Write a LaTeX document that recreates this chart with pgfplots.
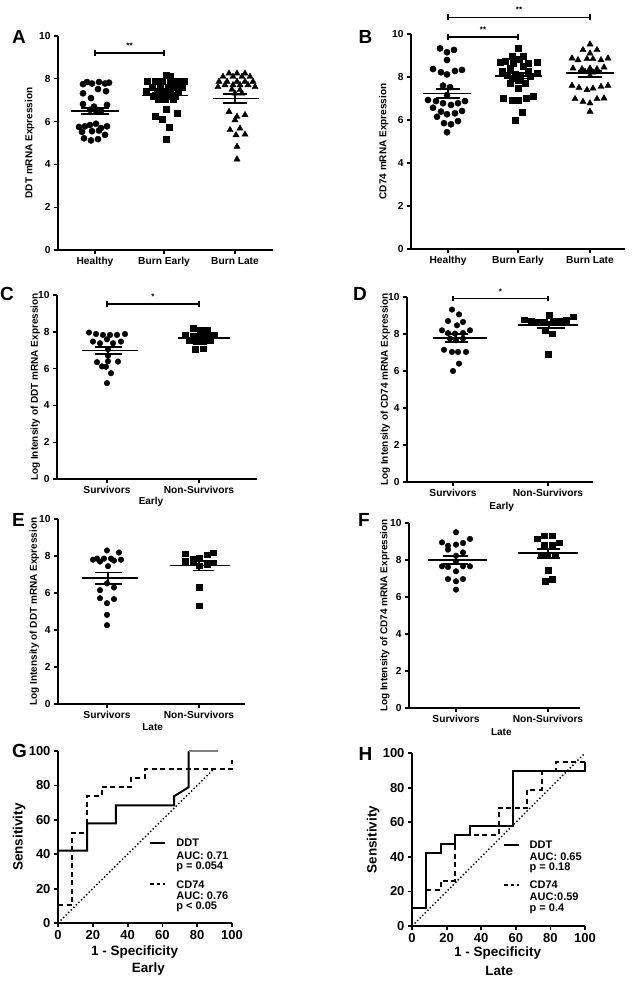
\documentclass[border=0pt]{standalone}
\usepackage{fontspec}
\setmainfont{Liberation Sans}
\usepackage{pgfplots}
\pgfplotsset{compat=1.18}
\newcommand{\ft}[1]{\bfseries\fontsize{#1}{#1}\selectfont}
\pgfplotsset{
  base/.style={scale only axis, axis x line*=bottom, axis y line*=left,
    tick align=outside, major tick length=4pt, clip=false, unbounded coords=jump,
    /pgf/number format/assume math mode=true,
    axis line style={line width=1.4pt}, major tick style={line width=1.4pt,black},
    tick label style={font=\ft{10.2}, black}, label style={font=\ft{10}}},
  scat/.style={base, ymin=0, ymax=10, ytick={0,2,4,6,8,10}},
  dots/.style={only marks, mark=*, mark size=#1, black},
  sqs/.style={only marks, mark=square*, mark size=#1, black},
  tris/.style={only marks, mark=triangle*, mark size=#1, black},
  ms/.style={black, line width=1.8pt, no marks},
  sig/.style={black, line width=1.4pt, no marks},
  roc/.style={base, xmin=0, xmax=100, ymin=0, ymax=100, xtick={0,20,...,100}, ytick={0,20,...,100},
    axis line style={line width=1.8pt}, major tick style={line width=1.8pt,black},
    tick label style={font=\ft{13}}, label style={font=\ft{13.5}}},
  rl/.style={black, line width=2pt, no marks},
}
\begin{document}
\begin{tikzpicture}
\path[use as bounding box] (0pt,0pt) rectangle (638pt,-987pt);
% panel letters
\node[font=\ft{19}] at (19pt,-37pt) {A};
\node[font=\ft{19}] at (365.5pt,-36.5pt) {B};
\node[font=\ft{19}] at (7pt,-294pt) {C};
\node[font=\ft{19}] at (360pt,-294pt) {D};
\node[font=\ft{19}] at (18.5pt,-520pt) {E};
\node[font=\ft{19}] at (364pt,-520pt) {F};
\node[font=\ft{19}] at (19.5pt,-751pt) {G};
\node[font=\ft{19}] at (365.5pt,-753.5pt) {H};

% ---------------- A ----------------
\begin{axis}[scat, at={(58pt,-250pt)}, anchor=south west, width=215pt, height=214pt,
  xmin=-37, xmax=178, xtick={0,69,140}, xticklabels={Healthy,Burn Early,Burn Late},
  ylabel={DDT mRNA Expression}, ylabel style={at={(axis description cs:-0.093,0.5)}, anchor=south}]
\addplot[dots=3.1pt] coordinates {(-12,7.75) (-8,7.85) (-3,7.78) (4,7.85) (10,7.78) (14,7.82)
 (-12,7.32) (3,7.52) (11,7.42) (-4,7.10)
 (-12,6.82) (-5,6.55) (1,6.52) (6,6.48) (12,6.78) (-1,6.70)
 (-16,5.75) (-10,5.78) (-5,5.84) (1,5.90) (6,5.70) (12,5.78) (-13,5.52) (-3,5.55) (4,5.58) (10,5.38) (-11,5.22) (-4,5.12) (3,5.18)};
\addplot[sqs=3pt] coordinates {(71,8.18) (75,8.13)
 (52,7.87) (60,7.87) (67,7.87) (75,7.87) (82,7.87) (89,7.90)
 (57,7.63) (65,7.63) (73,7.63) (80,7.63) (87,7.63)
 (51,7.40) (62,7.40) (68,7.40) (75,7.40) (83,7.40)
 (58,7.20) (65,7.20) (72,7.20) (80,7.20)
 (63,7.04) (70,7.04) (78,7.04)
 (71,6.59) (60,6.26) (67,6.11) (82,6.39) (74,5.76) (71,5.17)};
\addplot[tris=3.6pt] coordinates {(134,8.25) (142,8.25) (150,8.25)
 (128,8.10) (138,8.10) (147,8.10) (155,8.10)
 (124,7.87) (132,7.87) (142,7.87) (150,7.87) (158,7.87)
 (130,7.71) (138,7.71) (145,7.71) (153,7.71)
 (123,7.62) (137,7.50) (145,7.48) (160,7.62)
 (140,7.32) (147,7.32)
 (134,6.46) (142,6.23) (150,6.31) (140,6.07) (135,5.61) (145,5.68) (141,5.37) (150,5.40) (142,4.83) (142,4.24)};
\addplot[ms] coordinates {(-24,6.51) (24,6.51) (0,nan) (-14,6.65) (14,6.65) (0,nan) (-14,6.37) (14,6.37) (0,nan) (0,6.37) (0,6.65)};
\addplot[ms] coordinates {(47,7.22) (93,7.22) (0,nan) (57,7.33) (81,7.33) (0,nan) (57,7.10) (81,7.10) (0,nan) (69,7.10) (69,7.33)};
\addplot[ms] coordinates {(118,7.08) (164,7.08) (0,nan) (128,7.28) (152,7.28) (0,nan) (128,6.88) (152,6.88) (0,nan) (140,6.88) (140,7.28)};
\addplot[sig] coordinates {(0,9.05) (0,9.35) (0,nan) (0,9.2) (69,9.2) (0,nan) (69,9.05) (69,9.35)};
\node[font=\ft{8}, anchor=south] at (axis cs:34.5,9.25) {**};
\end{axis}

% ---------------- B ----------------
\begin{axis}[scat, at={(411pt,-249pt)}, anchor=south west, width=214pt, height=215pt,
  xmin=-37, xmax=177, xtick={0,70,142}, xticklabels={Healthy,Burn Early,Burn Late},
  ylabel={CD74 mRNA Expression}, ylabel style={at={(axis description cs:-0.089,0.5)}, anchor=south}]
\addplot[dots=3.1pt] coordinates {(-8,9.33) (-1,9.15) (6,9.26) (-1,8.79)
 (-15,8.37) (-7,8.22) (-1,8.12) (7,8.28) (14,8.33)
 (-5,7.60) (2,7.53) (-1,7.16)
 (-20,6.93) (-12,6.88) (-5,6.78) (3,6.70) (10,6.78) (17,6.88)
 (-15,6.57) (-7,6.39) (-1,6.27) (7,6.31) (14,6.42)
 (-11,6.15) (-4,5.85) (3,5.80) (10,5.95) (-1,5.43)};
\addplot[sqs=3pt] coordinates {(70,9.33) (64,8.99) (75,8.99) (52,8.68) (57,8.74) (71,8.84) (80,8.64) (89,8.71) (65,8.64)
 (62,8.40) (75,8.48) (54,8.28) (80,8.25)
 (59,8.09) (67,8.12) (72,8.01) (82,8.06) (89,8.17)
 (64,7.94) (70,7.86) (62,7.71) (77,7.71) (70,7.50)
 (55,7.01) (64,6.93) (70,6.93) (78,7.01) (85,7.12) (74,6.36) (67,6.00)};
\addplot[tris=3.6pt] coordinates {(142,9.52) (135,9.26) (149,9.26) (142,9.10)
 (124,8.87) (130,8.79) (139,8.84) (145,8.84) (153,8.79) (160,8.87)
 (125,8.40) (134,8.37) (142,8.40) (149,8.37) (156,8.45)
 (137,8.25) (145,8.22) (142,8.06)
 (124,7.60) (131,7.50) (139,7.40) (145,7.47) (153,7.55) (160,7.60)
 (127,6.98) (135,6.85) (142,6.78) (149,6.98) (156,7.01) (142,6.39)};
\addplot[ms] coordinates {(-25,7.23) (23,7.23) (0,nan) (-12,7.43) (12,7.43) (0,nan) (-12,7.01) (12,7.01) (0,nan) (0,7.01) (0,7.43)};
\addplot[ms] coordinates {(47,8.06) (94,8.06) (0,nan) (58,8.17) (82,8.17) (0,nan) (58,7.93) (82,7.93) (0,nan) (70,7.93) (70,8.17)};
\addplot[ms] coordinates {(118,8.17) (166,8.17) (0,nan) (130,8.29) (154,8.29) (0,nan) (130,7.99) (154,7.99) (0,nan) (142,7.99) (142,8.29)};
\addplot[sig] coordinates {(0,9.71) (0,10.01) (0,nan) (0,9.86) (70,9.86) (0,nan) (70,9.71) (70,10.01)};
\addplot[sig] coordinates {(0,10.63) (0,10.93) (0,nan) (0,10.78) (142,10.78) (0,nan) (142,10.63) (142,10.93)};
\node[font=\ft{8}, anchor=south] at (axis cs:35,9.9) {**};
\node[font=\ft{8}, anchor=south] at (axis cs:71,10.82) {**};
\end{axis}

% ---------------- C ----------------
\begin{axis}[scat, at={(57pt,-479pt)}, anchor=south west, width=200pt, height=184pt,
  xmin=-50, xmax=150, xtick={0,92}, xticklabels={Survivors,Non-Survivors},
  ylabel={Log Intensity of DDT mRNA Expression}, ylabel style={at={(axis description cs:-0.068,0.5)}, anchor=south},
  xlabel={Early}, xlabel style={at={(axis description cs:0.47,-0.123)}, anchor=center}]
\addplot[dots=2.8pt] coordinates {(-18,7.96) (-11,7.88) (-4,7.83) (3,7.83) (10,7.83) (18,7.88)
 (-14,7.47) (-7,7.38) (0,7.59) (6,7.38) (14,7.47)
 (1,7.05) (1,6.70)
 (-10,6.35) (1,6.40) (11,6.38) (-5,6.12) (-1,6.10)
 (4,5.75) (0,5.21)};
\addplot[sqs=2.7pt] coordinates {(86,8.19) (93,8.12) (100,8.10)
 (78,7.82) (86,7.78) (93,7.76) (100,7.80) (107,7.82)
 (82,7.52) (89,7.48) (96,7.50) (103,7.55)
 (88,7.05) (96,7.08)};
\addplot[ms] coordinates {(-25,6.98) (31,6.98) (0,nan) (-12,7.16) (15,7.16) (0,nan) (-12,6.80) (15,6.80) (0,nan) (1,6.80) (1,7.16)};
\addplot[ms] coordinates {(71,7.65) (123,7.65) (0,nan) (85,7.76) (106,7.76) (0,nan) (85,7.53) (106,7.53) (0,nan) (95,7.53) (95,7.76)};
\addplot[sig] coordinates {(0,9.36) (0,9.66) (0,nan) (0,9.51) (92,9.51) (0,nan) (92,9.36) (92,9.66)};
\node[font=\ft{8}, anchor=south] at (axis cs:46,9.55) {*};
\end{axis}

% ---------------- D ----------------
\begin{axis}[scat, at={(407pt,-482pt)}, anchor=south west, width=186pt, height=185pt,
  xmin=-46, xmax=140, xtick={0,95}, xticklabels={Survivors,Non-Survivors},
  ylabel={Log Intensity of CD74 mRNA Expression}, ylabel style={at={(axis description cs:-0.073,0.5)}, anchor=south},
  xlabel={Early}, xlabel style={at={(axis description cs:0.509,-0.134)}, anchor=center}]
\addplot[dots=2.8pt] coordinates {(-1,9.32) (6,9.06) (-5,8.70) (4,8.47) (10,8.65) (-11,8.20) (-5,8.05) (2,8.02) (10,8.05) (17,8.20)
 (-3,7.75) (3,7.66) (10,7.75) (-9,7.15) (-1,7.03) (5,7.03) (13,7.03) (6,6.40) (0,6.00)};
\addplot[sqs=2.7pt] coordinates {(71,8.77) (78,8.70) (84,8.65) (91,8.65) (96,9.01) (100,8.70) (106,8.70) (113,8.74) (120,8.92)
 (92,8.20) (99,8.02) (95,6.90)};
\addplot[ms] coordinates {(-20,7.80) (34,7.80) (0,nan) (-8,8.02) (15,8.02) (0,nan) (-8,7.57) (15,7.57) (0,nan) (3,7.57) (3,8.02)};
\addplot[ms] coordinates {(65,8.50) (125,8.50) (0,nan) (84,8.65) (112,8.65) (0,nan) (84,8.32) (112,8.32) (0,nan) (96,8.32) (96,8.65)};
\addplot[sig] coordinates {(0,9.78) (0,10.08) (0,nan) (0,9.93) (95,9.93) (0,nan) (95,9.78) (95,10.08)};
\node[font=\ft{8}, anchor=south] at (axis cs:47.5,9.97) {*};
\end{axis}

% ---------------- E ----------------
\begin{axis}[scat, at={(58pt,-704pt)}, anchor=south west, width=187pt, height=185pt,
  xmin=-49, xmax=138, xtick={0,92}, xticklabels={Survivors,Non-Survivors},
  ylabel={Log Intensity of DDT mRNA Expression}, ylabel style={at={(axis description cs:-0.083,0.5)}, anchor=south},
  xlabel={Late}, xlabel style={at={(axis description cs:0.506,-0.123)}, anchor=center}]
\addplot[dots=2.8pt] coordinates {(0,8.30) (12,8.19) (-14,7.80) (-10,7.86) (-7,7.70) (-3,7.86) (4,7.86) (7,7.75) (14,7.80) (1,7.45)
 (0,6.52) (-7,6.15) (7,6.30) (-7,5.72) (7,5.67) (0,5.45) (0,4.82) (0,4.26)};
\addplot[sqs=2.7pt] coordinates {(78,8.12) (86,7.83) (92,7.89) (100,8.07) (106,8.19) (78,7.71) (86,7.71) (92,7.47) (100,7.53) (106,7.65)
 (92,6.32) (92,5.31)};
\addplot[ms] coordinates {(-25,6.81) (31,6.81) (0,nan) (-12,7.11) (15,7.11) (0,nan) (-12,6.50) (15,6.50) (0,nan) (1,6.50) (1,7.11)};
\addplot[ms] coordinates {(63,7.49) (123,7.49) (0,nan) (86,7.74) (107,7.74) (0,nan) (86,7.22) (107,7.22) (0,nan) (92,7.22) (92,7.74)};
\end{axis}

% ---------------- F ----------------
\begin{axis}[scat, at={(409pt,-708pt)}, anchor=south west, width=171pt, height=185pt,
  xmin=-47, xmax=124, xtick={0,92}, xticklabels={Survivors,Non-Survivors},
  ylabel={Log Intensity of CD74 mRNA Expression}, ylabel style={at={(axis description cs:-0.094,0.5)}, anchor=south},
  xlabel={Late}, xlabel style={at={(axis description cs:0.54,-0.13)}, anchor=center}]
\addplot[dots=2.8pt] coordinates {(0,9.50) (-14,8.95) (-8,8.77) (0,8.83) (7,8.92) (14,9.14) (-8,8.56) (7,8.41) (0,8.23) (0,7.93)
 (-14,7.66) (-8,7.62) (7,7.66) (14,7.66) (0,7.39) (-8,6.97) (7,6.97) (0,6.85) (0,6.40)};
\addplot[sqs=2.7pt] coordinates {(81,9.14) (88,9.32) (96,9.32) (88,8.83) (96,8.83) (103,8.92) (85,8.29) (91,8.23) (99,8.29)
 (92,7.44) (89,6.85) (96,6.97)};
\addplot[ms] coordinates {(-28,8.02) (31,8.02) (0,nan) (-13,8.23) (12,8.23) (0,nan) (-13,7.80) (12,7.80) (0,nan) (0,7.80) (0,8.23)};
\addplot[ms] coordinates {(62,8.38) (122,8.38) (0,nan) (81,8.59) (104,8.59) (0,nan) (81,8.11) (104,8.11) (0,nan) (92,8.11) (92,8.59)};
\end{axis}

% ---------------- G ----------------
\begin{axis}[roc, at={(58pt,-923pt)}, anchor=south west, width=174pt, height=172pt,
  ylabel={Sensitivity}, ylabel style={at={(axis description cs:-0.167,0.5)}, anchor=south},
  xlabel={1 - Specificity}, xlabel style={at={(axis description cs:0.44,-0.167)}, anchor=center}]
\addplot[black, line width=1.4pt, dash pattern=on 1.4pt off 2.2pt] coordinates {(0,0) (90,90)};
\addplot[rl] coordinates {(0,42.1) (16.7,42.1) (16.7,57.9) (33.3,57.9) (33.3,68.4) (66.7,68.4) (66.7,73.7) (75,78.9) (75,100)};
\addplot[gray, line width=1.3pt] coordinates {(75,100) (91.7,100)};
\addplot[rl, dash pattern=on 5pt off 3.5pt] coordinates {(0,10.5) (8.3,10.5) (8.3,52.6) (16.7,52.6) (16.7,73.7) (25,73.7) (25,78.9) (41.7,78.9) (41.7,84.2) (50,84.2) (50,89.5) (100,89.5) (100,94.7)};
\draw[line width=2pt] (axis cs:52.9,46.5) -- (axis cs:61.5,46.5);
\draw[line width=2pt, dash pattern=on 3.5pt off 3pt] (axis cs:52.9,22.5) -- (axis cs:61.5,22.5);
\node[font=\ft{11}, anchor=west] at (axis cs:66,46.5) {DDT};
\node[font=\ft{11}, anchor=west] at (axis cs:66,39.3) {AUC: 0.71};
\node[font=\ft{11}, anchor=west] at (axis cs:66,32.9) {p = 0.054};
\node[font=\ft{11}, anchor=west] at (axis cs:66,22.5) {CD74};
\node[font=\ft{11}, anchor=west] at (axis cs:66,15.7) {AUC: 0.76};
\node[font=\ft{11}, anchor=west] at (axis cs:66,9.3) {p < 0.05};
\node[font=\ft{13.5}] at (axis description cs:0.52,-0.269) {Early};
\end{axis}

% ---------------- H ----------------
\begin{axis}[roc, at={(412pt,-926pt)}, anchor=south west, width=173pt, height=173pt,
  ylabel={Sensitivity}, ylabel style={at={(axis description cs:-0.168,0.5)}, anchor=south},
  xlabel={1 - Specificity}, xlabel style={at={(axis description cs:0.495,-0.158)}, anchor=center}]
\addplot[black, line width=1.4pt, dash pattern=on 1.4pt off 2.2pt] coordinates {(0,0) (100,100)};
\addplot[rl] coordinates {(0,10.5) (8.3,10.5) (8.3,42.1) (16.7,42.1) (16.7,47.4) (25,47.4) (25,52.6) (33.3,52.6) (33.3,57.9) (58.3,57.9) (58.3,89.5) (100,89.5) (100,94.7)};
\addplot[rl, dash pattern=on 5pt off 3.5pt] coordinates {(8.3,21.1) (16.7,21.1) (16.7,26.3) (25,26.3) (25,52.6) (50,52.6) (50,68.4) (66.7,68.4) (66.7,78.9) (75,78.9) (75,89.5) (83.3,89.5) (83.3,94.7) (100,94.7)};
\draw[line width=2pt] (axis cs:53.3,47) -- (axis cs:62.1,47);
\draw[line width=2pt, dash pattern=on 3.5pt off 3pt] (axis cs:53.3,23.9) -- (axis cs:62.1,23.9);
\node[font=\ft{11}, anchor=west] at (axis cs:66,47) {DDT};
\node[font=\ft{11}, anchor=west] at (axis cs:66,39.9) {AUC: 0.65};
\node[font=\ft{11}, anchor=west] at (axis cs:66,33.7) {p = 0.18};
\node[font=\ft{11}, anchor=west] at (axis cs:66,23.9) {CD74};
\node[font=\ft{11}, anchor=west] at (axis cs:66,17.1) {AUC:0.59};
\node[font=\ft{11}, anchor=west] at (axis cs:66,10) {p = 0.4};
\node[font=\ft{13.5}] at (axis description cs:0.505,-0.258) {Late};
\end{axis}
\end{tikzpicture}
\end{document}
